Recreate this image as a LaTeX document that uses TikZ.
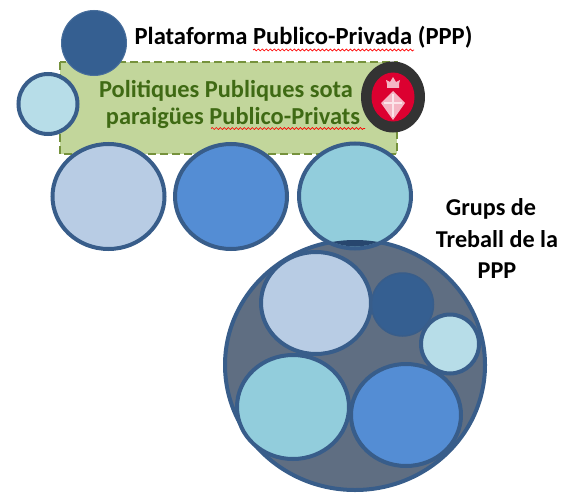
\documentclass[tikz,border=0pt]{standalone}
\usepackage{fontspec}
\setmainfont{Carlito}
\usetikzlibrary{decorations.pathmorphing}
\definecolor{cdark}{HTML}{355F91}
\definecolor{clight}{HTML}{B7DDE8}
\definecolor{cpale}{HTML}{B8CCE4}
\definecolor{cblue}{HTML}{548DD4}
\definecolor{cteal}{HTML}{92CDDC}
\definecolor{cgray}{HTML}{5F6E82}
\definecolor{cline}{HTML}{385D8A}
\definecolor{cgfill}{HTML}{C2D69B}
\definecolor{cgline}{HTML}{76923C}
\definecolor{cgtext}{HTML}{3F6A14}
\definecolor{clens}{HTML}{27466E}
\definecolor{credl}{HTML}{DC0030}
\definecolor{cpink}{HTML}{F4B6C4}
\tikzset{
  x=1pt,y=-1pt,
  blob/.style={draw=cline,line width=4pt},
  titletext/.style={font=\fontsize{24.6}{28}\bfseries\selectfont,inner sep=0pt,anchor=base,text=black},
  sidetext/.style={font=\fontsize{24.2}{28}\bfseries\selectfont,inner sep=0pt,anchor=base,text=black},
  greentext/.style={font=\fontsize{24.4}{28}\bfseries\selectfont,inner sep=0pt,anchor=base,text=cgtext},
  squiggle/.style={draw=red,line width=0.7pt,decorate,decoration={snake,amplitude=1pt,segment length=4pt}},
}
\begin{document}
\begin{tikzpicture}
\useasboundingbox (0,0) rectangle (561,492);
% green panel
\draw[fill=cgfill,draw=cgline,line width=2.4pt,dash pattern=on 8pt off 4pt] (60,62) rectangle (397,154);
% top circles
\fill[cdark,draw=cdark!90!white,line width=1pt] (94,43) circle [x radius=32.5,y radius=32.5];
\path[blob,fill=clight] (48,104) circle [x radius=29.5,y radius=30];
% row of three
\path[blob,fill=cpale] (108.5,196.5) ellipse [x radius=56,y radius=52.5];
\path[blob,fill=cblue] (231,196.5) ellipse [x radius=56,y radius=52.5];
% big circle
\path[blob,fill=cgray] (355,365) ellipse [x radius=130,y radius=125];
\path[blob,fill=cteal] (355,196) ellipse [x radius=56,y radius=52.5];
\begin{scope}
  \clip (355,196) ellipse [x radius=54,y radius=50.5];
  \fill[clens] (355,365) ellipse [x radius=130,y radius=125];
\end{scope}
% inner
\path[blob,fill=cpale] (316,303) ellipse [x radius=55,y radius=51];
\fill[cdark,draw=cline,line width=1.5pt] (402.5,304.5) ellipse [x radius=31,y radius=31.5];
\path[blob,fill=clight] (450,344) ellipse [x radius=29,y radius=29.5];
\path[blob,fill=cteal] (293,407) ellipse [x radius=56,y radius=52];
\path[blob,fill=cblue] (406,415) ellipse [x radius=55,y radius=51];
% logo
\fill[black!80] (393,97) ellipse [x radius=32,y radius=35.5];
\fill[credl] (393,97) ellipse [x radius=21.5,y radius=24.5];
\fill[cpink] (393,91) -- (405,103) -- (393,120) -- (381,103) -- cycle;
\fill[white!65!cpink] (392,94) rectangle (394,117);
\fill[white!65!cpink] (384,102) rectangle (402,104);
\fill[cpink] (387,84) -- (386,80) -- (390,82) -- (393,77) -- (396,82) -- (400,80) -- (399,84) -- (399,88) -- (387,88) -- cycle;
% text
\node[titletext] (title) at (303.5,45) {Plataforma Publico-Privada (PPP)};
\node[greentext] (pol1) at (226,98) {Politiques Publiques sota};
\node[greentext] (pol2) at (233,124) {paraigües Publico-Privats};
\node[sidetext] (g1) at (491,215) {Grups de};
\node[sidetext] (g2) at (497,247) {Treball de la};
\node[sidetext] (g3) at (497,278) {PPP};
% spell-check underlines
\coordinate (s1a) at (253,50); \coordinate (s1b) at (414,50);
\coordinate (s2a) at (211,128.5); \coordinate (s2b) at (365,128.5);
\draw[squiggle] (s1a) -- (s1b);
\draw[squiggle] (s2a) -- (s2b);
\end{tikzpicture}
\end{document}
